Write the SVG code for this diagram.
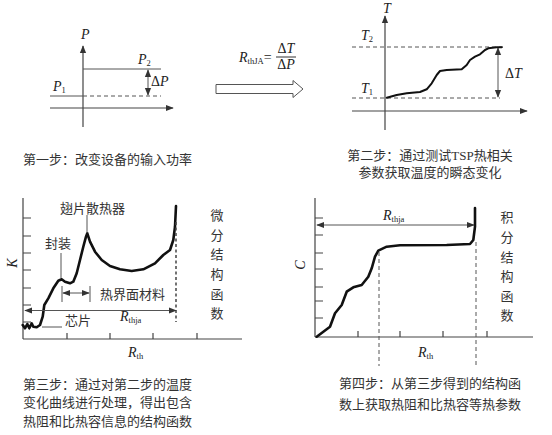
<svg xmlns="http://www.w3.org/2000/svg" width="552" height="435" viewBox="0 0 552 435">
<style>
.ax{stroke:#444;stroke-width:1.2;fill:none}
.thin{stroke:#555;stroke-width:1;fill:none}
.dash{stroke:#555;stroke-width:1;fill:none;stroke-dasharray:4 3}
.dashb{stroke:#444;stroke-width:1.5;fill:none;stroke-dasharray:3 2.5}
.curve{stroke:#111;stroke-width:2.6;fill:none;stroke-linejoin:round;stroke-linecap:round}
.m{font-family:"Liberation Serif",serif;font-style:italic;font-size:14px;fill:#222}
.sub{font-size:8.5px;font-style:normal}
.cn{font-family:"Liberation Serif","Noto Sans CJK SC",serif;font-size:13px;fill:#333}
</style>
<defs>
<marker id="ah" viewBox="0 0 10 10" refX="9" refY="5" markerWidth="8" markerHeight="8" markerUnits="userSpaceOnUse" orient="auto-start-reverse">
<path d="M0,1 L10,5 L0,9 Z" fill="#333"/>
</marker>
</defs>
<rect width="552" height="435" fill="#fff"/>

<g id="chart-power">
<line class="ax" x1="83" y1="127" x2="83" y2="46" marker-end="url(#ah)"/>
<line class="ax" x1="50" y1="108" x2="173" y2="108" marker-end="url(#ah)"/>
<line class="thin" x1="83" y1="69" x2="161" y2="69"/>
<line class="thin" x1="50" y1="96" x2="83" y2="96"/>
<line class="dash" x1="83" y1="96" x2="161" y2="96"/>
<line class="thin" x1="148" y1="70" x2="148" y2="95" marker-start="url(#ah)" marker-end="url(#ah)"/>
<text class="m" x="81" y="39">P</text>
<text class="m" x="53" y="91">P<tspan class="sub" dy="2">1</tspan></text>
<text class="m" x="138" y="64">P<tspan class="sub" dy="2">2</tspan></text>
<text class="m" x="151" y="86" style="font-style:normal">Δ<tspan style="font-style:italic">P</tspan></text>
</g>

<g id="formula-arrow">
<text class="m" x="239" y="62">R<tspan class="sub" dy="2">thJA</tspan><tspan dy="-2" style="font-style:normal">=</tspan></text>
<text class="m" x="286" y="53" text-anchor="middle" style="font-style:normal">Δ<tspan style="font-style:italic">T</tspan></text>
<line x1="276" y1="57" x2="296" y2="57" stroke="#333" stroke-width="1"/>
<text class="m" x="286" y="69" text-anchor="middle" style="font-style:normal">Δ<tspan style="font-style:italic">P</tspan></text>
<polygon points="216,84.5 293,84.5 293,80.5 303,89 293,97.5 293,93.5 216,93.5" fill="#fff" stroke="#555" stroke-width="1"/>
</g>

<g id="chart-temp">
<line class="ax" x1="385" y1="130" x2="385" y2="16" marker-end="url(#ah)"/>
<line class="ax" x1="352" y1="111" x2="527" y2="111" marker-end="url(#ah)"/>
<line class="dash" x1="352" y1="47" x2="503" y2="47"/>
<line class="dash" x1="352" y1="98" x2="500" y2="98"/>
<line class="thin" x1="498" y1="48" x2="498" y2="97" marker-start="url(#ah)" marker-end="url(#ah)"/>
<path class="curve" style="stroke-width:2" d="M386.7,97.7 L396.7,95 L406.7,93.3 L420,92 L426.7,89.3 L431.7,83.3 L436.7,75 L440,71 L446.7,70 L461.7,69.3 L466.7,65 L470,60 L475,56.7 L480,54.3 L485,50 L488.3,48.3 L496.7,47.3 L501.7,47.3"/>
<text class="m" x="383" y="13">T</text>
<text class="m" x="361" y="40">T<tspan class="sub" dy="2">2</tspan></text>
<text class="m" x="361" y="93">T<tspan class="sub" dy="2">1</tspan></text>
<text class="m" x="505" y="78" style="font-style:normal">Δ<tspan style="font-style:italic">T</tspan></text>
</g>

<g id="caption-1">
<text class="cn" x="23" y="164">第一步：改变设备的输入功率</text>
</g>
<g id="caption-2">
<text class="cn" x="430" y="160" text-anchor="middle">第二步：通过测试TSP热相关</text>
<text class="cn" x="430" y="177" text-anchor="middle">参数获取温度的瞬态变化</text>
</g>

<g id="chart-K">
<line class="ax" x1="23" y1="198" x2="23" y2="339"/>
<line class="ax" x1="23" y1="339" x2="242" y2="339"/>
<path class="ax" d="M23,218h8M23,236h8M23,253h8M23,270h8M23,288h8M23,305h8M23,322h8M67,339v-6M110,339v-6M153,339v-6M197,339v-6"/>
<path class="curve" d="M22.7,325 L25,328.3 L27.3,324 L29.3,328.3 L31.7,323.3 L33.3,326.7 L36.7,327.3 L40,325 L42.7,316.7 L44.3,305 L48.3,298.3 L53.3,288.3 L58.3,280.7 L61.7,279.3 L65,281.7 L70,283.3 L73.3,281.7 L76.7,273.3 L80,260 L83.3,246.7 L86,236.7 L87.3,233.3 L90,241.7 L95,251.7 L101.7,260 L110,266 L120,269.3 L131.7,271 L143.3,269.3 L155,263.3 L163.3,255 L170,250 L173.3,240 L175,226.7 L176,206"/>
<line class="dashb" x1="176" y1="222" x2="176" y2="322"/>
<line class="thin" x1="25" y1="310.5" x2="176" y2="310.5" marker-start="url(#ah)" marker-end="url(#ah)"/>
<line class="thin" x1="87" y1="215" x2="87" y2="233"/>
<line class="thin" x1="61" y1="253" x2="61" y2="278"/>
<line class="thin" x1="62" y1="286" x2="62" y2="302"/>
<line class="thin" x1="90" y1="286" x2="90" y2="302"/>
<line class="thin" x1="63" y1="293" x2="89" y2="293" marker-start="url(#ah)" marker-end="url(#ah)"/>
<line class="thin" x1="42" y1="327" x2="62" y2="327"/>
<text class="m" transform="translate(17,263) rotate(-90)" text-anchor="middle">K</text>
<text class="cn" x="60" y="213">翅片散热器</text>
<text class="cn" x="45" y="248">封装</text>
<text class="cn" x="100" y="299">热界面材料</text>
<text class="cn" x="65" y="325">芯片</text>
<text class="m" x="120" y="321">R<tspan class="sub" dy="2">thja</tspan></text>
<text class="m" x="128" y="357">R<tspan class="sub" dy="2">th</tspan></text>
<g class="cn" text-anchor="middle">
<text x="217" y="220">微</text>
<text x="217" y="240">分</text>
<text x="217" y="259">结</text>
<text x="217" y="279">构</text>
<text x="217" y="299">函</text>
<text x="217" y="318">数</text>
</g>
</g>

<g id="chart-C">
<line class="ax" x1="315" y1="198" x2="315" y2="337"/>
<line class="ax" x1="315" y1="337" x2="533" y2="337"/>
<path class="ax" d="M315,218h8M315,235h8M315,253h8M315,269h8M315,287h8M315,301h8M315,318h8M358,337v-6M400,337v-6M443,337v-6M487,337v-6"/>
<path class="curve" d="M316.7,336.7 L330,326.7 L335,313.3 L341.7,305 L346.7,291.7 L353.3,287.3 L361.7,285 L368.3,276.7 L371.7,268.3 L375,256.7 L378.3,250.7 L386.7,246.7 L400,245.3 L446.7,245 L470,244 L473.3,240 L475,226.7 L475,208"/>
<line class="dash" x1="379" y1="252" x2="379" y2="366"/>
<line class="dash" x1="476" y1="242" x2="476" y2="366"/>
<line class="thin" x1="317" y1="225" x2="474" y2="225" marker-start="url(#ah)" marker-end="url(#ah)"/>
<text class="m" transform="translate(305,265) rotate(-90)" text-anchor="middle">C</text>
<text class="m" x="383" y="220">R<tspan class="sub" dy="2">thja</tspan></text>
<text class="m" x="418" y="357">R<tspan class="sub" dy="2">th</tspan></text>
<g class="cn" text-anchor="middle">
<text x="507" y="222">积</text>
<text x="507" y="242">分</text>
<text x="507" y="262">结</text>
<text x="507" y="281">构</text>
<text x="507" y="301">函</text>
<text x="507" y="320">数</text>
</g>
</g>

<g id="caption-3">
<text class="cn" x="23" y="389">第三步：通过对第二步的温度</text>
<text class="cn" x="23" y="407">变化曲线进行处理，得出包含</text>
<text class="cn" x="23" y="426">热阻和比热容信息的结构函数</text>
</g>
<g id="caption-4">
<text class="cn" x="339" y="388">第四步：从第三步得到的结构函</text>
<text class="cn" x="339" y="409">数上获取热阻和比热容等热参数</text>
</g>
</svg>
